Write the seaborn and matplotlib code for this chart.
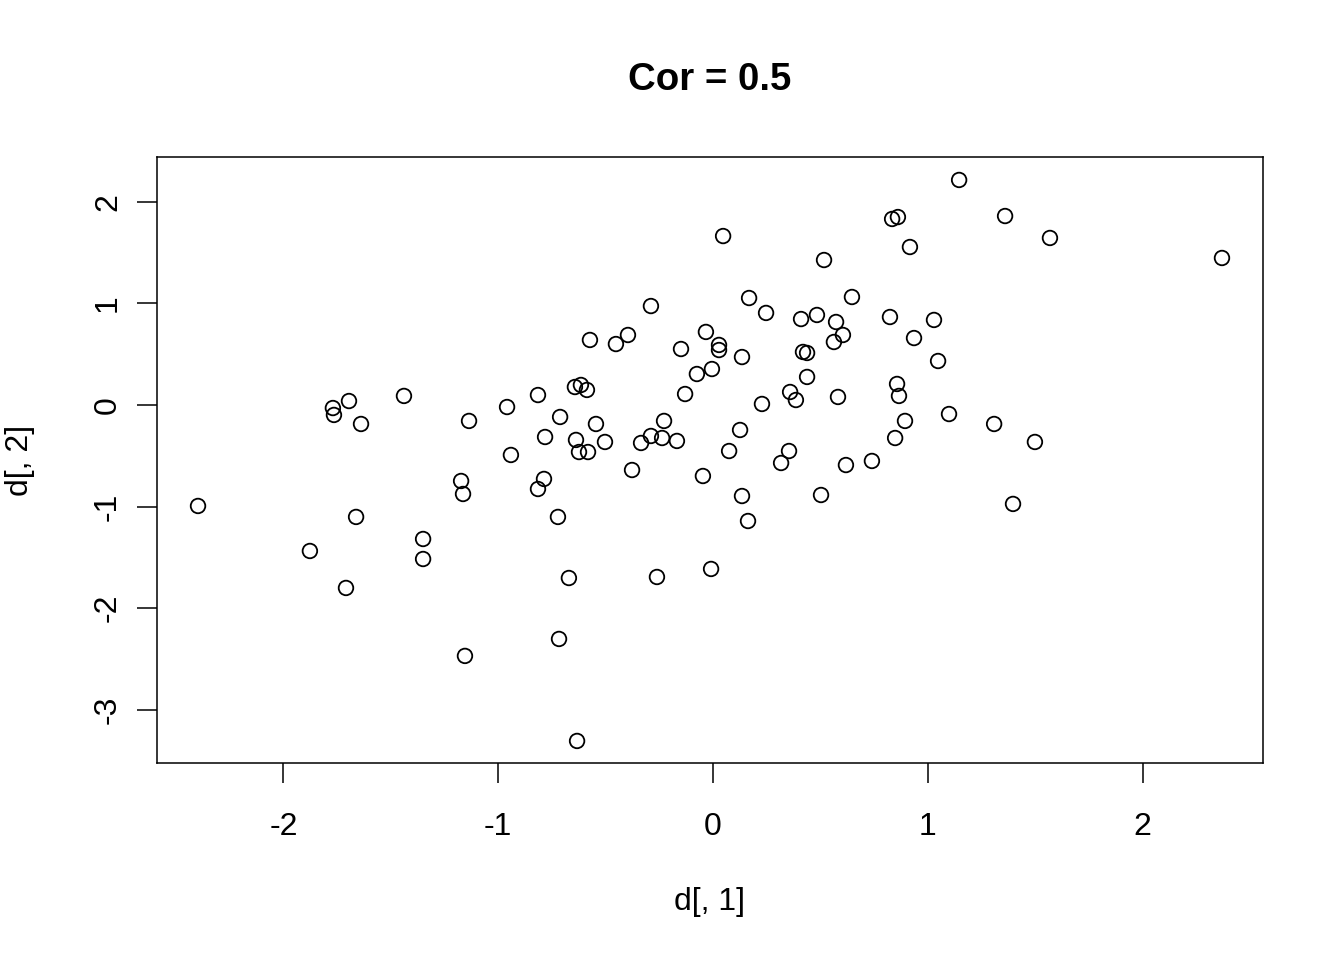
import numpy as np
import pandas as pd
import seaborn as sns
import matplotlib
matplotlib.use("Agg")
import matplotlib.pyplot as plt

# values (d[, 1], d[, 2])
d1 = [-2.398, -1.877, -1.709, -1.662, -1.770, -1.765, -1.695, -1.639, -1.439, -1.350,
      -1.350, -1.173, -1.164, -1.136, -1.155, -0.959, -0.941, -0.815, -0.815, -0.782,
      -0.787, -0.722, -0.712, -0.717, -0.671, -0.643, -0.615, -0.587, -0.573, -0.638,
      -0.624, -0.582, -0.545, -0.503, -0.633, -0.452, -0.396, -0.377, -0.335, -0.289,
      -0.289, -0.261, -0.237, -0.228, -0.168, -0.149, -0.130, -0.075, -0.047, -0.033,
      -0.005, -0.009, 0.028, 0.028, 0.047, 0.075, 0.126, 0.135, 0.135, 0.163,
      0.168, 0.228, 0.247, 0.317, 0.354, 0.359, 0.386, 0.410, 0.419, 0.438,
      0.438, 0.484, 0.503, 0.517, 0.563, 0.573, 0.582, 0.605, 0.619, 0.647,
      0.740, 0.824, 0.834, 0.861, 0.857, 0.866, 0.848, 0.894, 0.917, 0.936,
      1.029, 1.048, 1.099, 1.146, 1.309, 1.360, 1.397, 1.499, 1.569, 2.370]
d2 = [-0.994, -1.437, -1.801, -1.102, -0.030, -0.098, 0.039, -0.187, 0.089, -1.319,
      -1.516, -0.748, -0.876, -0.157, -2.470, -0.020, -0.492, 0.098, -0.827, -0.315,
      -0.728, -1.102, -0.118, -2.303, -1.703, 0.177, 0.197, 0.148, 0.640, -0.344,
      -0.463, -0.463, -0.187, -0.364, -3.307, 0.600, 0.689, -0.640, -0.374, 0.974,
      -0.305, -1.693, -0.325, -0.157, -0.354, 0.551, 0.108, 0.305, -0.699, 0.719,
      0.354, -1.614, 0.591, 0.541, 1.663, -0.453, -0.246, -0.896, 0.472, -1.142,
      1.053, 0.010, 0.906, -0.571, -0.453, 0.128, 0.049, 0.846, 0.522, 0.512,
      0.276, 0.886, -0.886, 1.427, 0.620, 0.817, 0.079, 0.689, -0.591, 1.063,
      -0.551, 0.866, 1.831, 1.850, 0.207, 0.089, -0.325, -0.157, 1.555, 0.659,
      0.837, 0.433, -0.089, 2.215, -0.187, 1.860, -0.974, -0.364, 1.644, 1.447]

x_ticks = [-2, -1, 0, 1, 2]
y_ticks = [-3, -2, -1, 0, 1, 2]

df = pd.DataFrame({"d1": d1, "d2": d2})

sns.set_style("ticks")
plt.rcParams["font.family"] = ["Liberation Sans", "DejaVu Sans"]
plt.rcParams["text.color"] = "black"
plt.rcParams["axes.labelcolor"] = "black"

fig = plt.figure(figsize=(13.44, 9.6), dpi=100)
ax = fig.add_axes([157 / 1344, 1 - 763 / 960, 1106 / 1344, 606 / 960])

sns.scatterplot(data=df, x="d1", y="d2", ax=ax, marker="o", s=110,
                facecolor="none", edgecolor="black", linewidth=1.3)

ax.set_xlim(-2.589, 2.561)
ax.set_ylim(-3.524, 2.441)
ax.set_xticks(x_ticks)
ax.set_yticks(y_ticks)
ax.set_xticklabels([str(v) for v in x_ticks])
ax.set_yticklabels([str(v) for v in y_ticks], rotation=90, va="center")
ax.tick_params(axis="both", direction="out", length=14.4, width=1.1,
               labelsize=23, color="black", labelcolor="black")
ax.tick_params(axis="x", pad=21)
ax.tick_params(axis="y", pad=10)
for sp in ax.spines.values():
    sp.set_visible(True)
    sp.set_linewidth(1.1)
    sp.set_color("black")

ax.set_xlabel("d[, 1]", fontsize=23, va="center", color="black")
ax.set_ylabel("d[, 2]", fontsize=23, va="center", color="black")
ax.xaxis.set_label_coords(0.5, (763 - 902) / 606)
ax.yaxis.set_label_coords((20 - 157) / 1106, 0.5)

fig.text(710 / 1344, 1 - 80 / 960, "Cor = 0.5", fontsize=27.6,
         fontweight="bold", ha="center", va="center", color="black")

plt.savefig("out.png", dpi=100)
